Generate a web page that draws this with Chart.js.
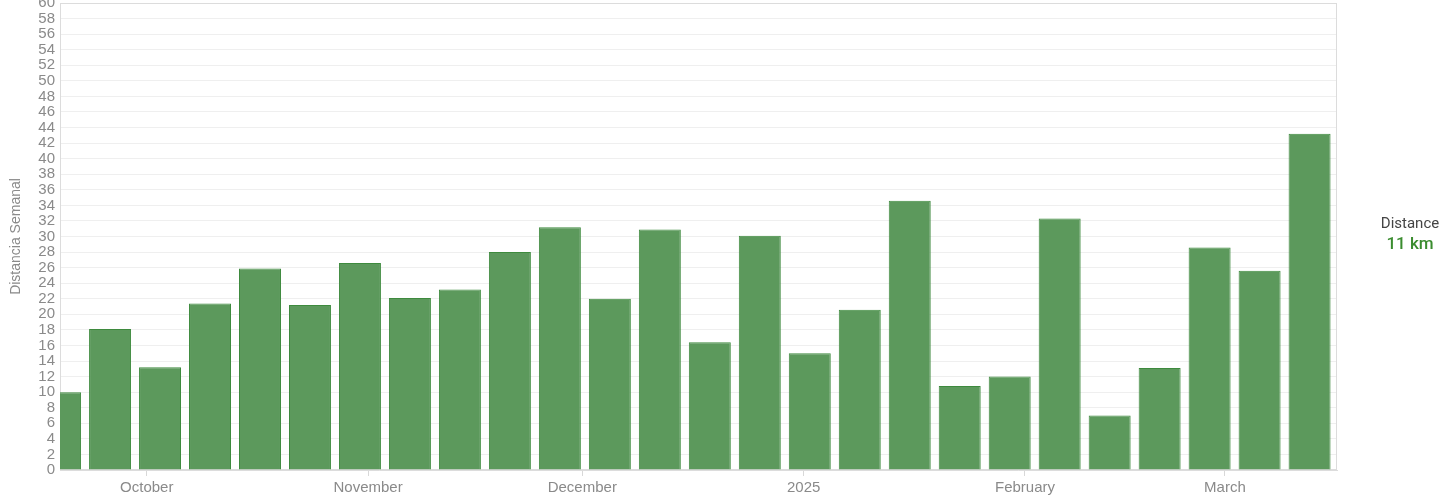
<!DOCTYPE html>
<html>
<head>
<meta charset="utf-8">
<script src="https://cdn.jsdelivr.net/npm/chart.js@4"></script>
<style>
    html, body { margin: 0; padding: 0; background: #fff; }
    #wrap { position: relative; width: 1456px; height: 500px; }
    #side {
        position: absolute; left: 1370px; top: 214px; width: 80px;
        text-align: center; font-family: Roboto, sans-serif;
    }
    #side .lbl { font-size: 15px; color: #444; }
    #side .val { font-size: 17px; color: #3a8c2f; font-weight: 500; margin-top: 1px; }
</style>
</head>
<body>
<div id="wrap">
    <canvas id="distance-chart" width="1456" height="500"></canvas>
    <div id="side">
        <div class="lbl">Distance</div>
        <div class="val">11 km</div>
    </div>
</div>
<script>
// Weekly distance (km), one bar per week; x is counted in days from 1 Oct 2024
const weekCenters = [-12.14, -5.14, 1.86, 8.86, 15.86, 22.86, 29.86, 36.86, 43.86, 50.86, 57.86, 64.86, 71.86,
    78.86, 85.86, 92.86, 99.86, 106.86, 113.86, 120.86, 127.86, 134.86, 141.86, 148.86, 155.86, 162.86];
const weeklyKm = [10, 18.1, 13.2, 21.4, 25.9, 21.2, 26.6, 22.1, 23.2, 28.0, 31.2, 22.0, 30.9,
    16.4, 30.1, 15.0, 20.6, 34.6, 10.8, 12.0, 32.3, 7.0, 13.1, 28.6, 25.6, 43.2];

// month ticks (days from 1 Oct 2024)
const monthTicks = [0, 31, 61, 92, 123, 151];
const monthLabels = ['October', 'November', 'December', '2025', 'February', 'March'];

const yTicks = [];
for (let v = 0; v <= 60; v += 2) yTicks.push(v);

const tickFont = { family: "'Liberation Sans', Arial, sans-serif", size: 15 };

// light border round the plot area
const frame = {
    id: 'frame',
    beforeDatasetsDraw(chart) {
        const a = chart.chartArea;
        const ctx = chart.ctx;
        ctx.save();
        ctx.strokeStyle = '#dcdcdc';
        ctx.lineWidth = 1;
        ctx.strokeRect(Math.round(a.left) + 0.5, Math.round(a.top) + 0.5,
            Math.round(a.right - a.left) - 1, Math.round(a.bottom - a.top) - 1);
        ctx.restore();
    }
};

const ctx = document.getElementById('distance-chart').getContext('2d');
new Chart(ctx, {
    type: 'bar',
    data: {
        datasets: [{
            label: 'Distancia Semanal',
            data: weekCenters.map((x, i) => ({ x: x, y: weeklyKm[i] })),
            backgroundColor: '#5c995c',
            borderColor: '#3e8a3e',
            borderWidth: 1,
            barPercentage: 0.84,
            categoryPercentage: 1
        }]
    },
    options: {
        responsive: false,
        animation: false,
        layout: { padding: { top: 3, right: 119, bottom: 0, left: 0 } },
        plugins: {
            legend: { display: false },
            tooltip: { enabled: false }
        },
        scales: {
            x: {
                type: 'linear',
                offset: false,
                min: -12.15,
                max: 166.7,
                afterBuildTicks(scale) {
                    scale.ticks = monthTicks.map(v => ({ value: v }));
                },
                afterFit(scale) {
                    scale.height = 30;
                    scale.paddingLeft = 0;
                    scale.paddingRight = 0;
                },
                ticks: {
                    autoSkip: false,
                    maxRotation: 0,
                    padding: 3,
                    color: '#8a8a8a',
                    font: tickFont,
                    callback: (v) => monthLabels[monthTicks.indexOf(v)] || ''
                },
                grid: {
                    offset: false,
                    drawOnChartArea: false,
                    drawTicks: true,
                    tickLength: 6,
                    color: '#d8d8d8'
                },
                border: { color: '#dcdcdc' }
            },
            y: {
                min: 0,
                max: 60,
                afterBuildTicks(scale) {
                    scale.ticks = yTicks.map(v => ({ value: v }));
                },
                afterFit(scale) {
                    scale.width = 60;
                    scale.paddingTop = 0;
                    scale.paddingBottom = 0;
                },
                ticks: {
                    autoSkip: false,
                    padding: 5,
                    color: '#8a8a8a',
                    font: tickFont
                },
                grid: {
                    drawTicks: false,
                    color: '#efefef'
                },
                border: { color: '#dcdcdc' },
                title: {
                    display: true,
                    text: 'Distancia Semanal',
                    color: '#8a8a8a',
                    font: { family: "'Liberation Sans', Arial, sans-serif", size: 14 },
                    padding: { top: 8, bottom: 0 }
                }
            }
        }
    },
    plugins: [frame]
});
</script>
</body>
</html>
